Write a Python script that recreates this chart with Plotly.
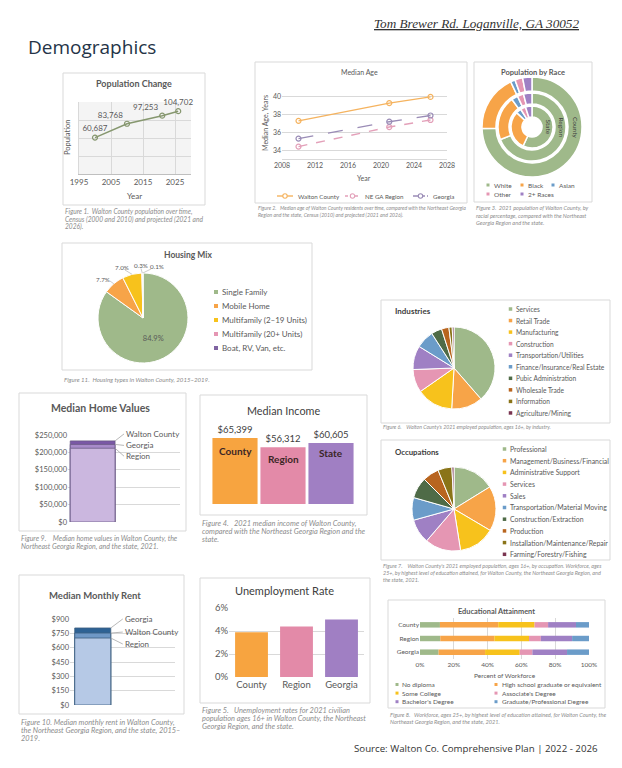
import plotly.graph_objects as go
import numpy as np

# The page body adds an 8px offset, so the figure is 614x760 and all
# positions below are given in window pixels, converted with that offset.
OFF = 8
W, H = 622 - OFF, 768 - OFF
FONT = "Lato"
GRID = "#d9d9d9"
TXT = "#595959"
CAP = "#8c8c8c"

# ---------------- data ----------------
pop_years = [2000, 2010, 2021, 2026]
pop_values = [60687, 83768, 97253, 104702]

age_years = [2010, 2021, 2026]
age_walton = [37.3, 39.3, 40.0]
age_region = [34.4, 36.6, 37.4]
age_georgia = [35.3, 37.2, 37.9]
age_series = ["Walton County", "NE GA Region", "Georgia"]

race_labels = ["White", "Black", "Asian", "Other", "2+ Races"]
race_county = [74.5, 18.5, 1.5, 2.5, 3.0]
race_region = [69.0, 21.0, 3.0, 3.0, 4.0]
race_state = [57.0, 30.0, 4.0, 4.0, 5.0]

housing_labels = ["Single Family", "Mobile Home", "Multifamily (2–19 Units)",
                  "Multifamily (20+ Units)", "Boat, RV, Van, etc."]
housing_values = [84.9, 7.7, 7.0, 0.3, 0.1]

industry_labels = ["Services", "Retail Trade", "Manufacturing", "Construction",
                   "Transportation/Utilities", "Finance/Insurance/Real Estate",
                   "Pubic Administration", "Wholesale Trade", "Information",
                   "Agriculture/Mining"]
industry_values = [38.6, 12.3, 14.4, 9.1, 9.4, 7.1, 4.2, 2.9, 1.3, 0.7]

occupation_labels = ["Professional", "Management/Business/Financial",
                     "Administrative Support", "Services", "Sales",
                     "Transportation/Material Moving", "Construction/Extraction",
                     "Production", "Installation/Maintenance/Repair",
                     "Farming/Forestry/Fishing"]
occupation_values = [16.2, 17.3, 14.0, 13.8, 9.4, 8.7, 8.1, 6.3, 5.4, 0.8]

home_labels = ["Walton County", "Georgia", "Region"]
home_values = [233000, 223000, 212000]

income_labels = ["County", "Region", "State"]
income_values = [65399, 56312, 60605]

rent_labels = ["Georgia", "Walton County", "Region"]
rent_values = [806, 753, 701]

unemp_labels = ["County", "Region", "Georgia"]
unemp_values = [3.9, 4.4, 5.0]

edu_places = ["County", "Region", "Georgia"]
edu_levels = ["No diploma", "High school graduate or equivalent", "Some College",
              "Associate's Degree", "Bachelor's Degree", "Graduate/Professional Degree"]
edu_no_diploma = [11.8, 12.0, 11.0]
edu_high_school = [34.5, 32.0, 27.5]
edu_some_college = [21.5, 20.5, 20.5]
edu_associate = [8.0, 7.0, 7.5]
edu_bachelor = [16.5, 18.5, 20.5]
edu_graduate = [7.7, 10.0, 13.0]

# ---------------- colours ----------------
C_GREEN = "#9fb98a"
C_ORANGE = "#f7a448"
C_YELLOW = "#f7c21c"
C_PINK = "#e596b3"
C_PURPLE = "#9f80c4"
C_BLUE = "#6b9cc9"
C_DGREEN = "#4f6b47"
C_DORANGE = "#b8651f"
C_DYELLOW = "#8a7418"
C_MAROON = "#7a3450"
pal10 = [C_GREEN, C_ORANGE, C_YELLOW, C_PINK, C_PURPLE, C_BLUE,
         C_DGREEN, C_DORANGE, C_DYELLOW, C_MAROON]


def X(px):
    return (px - OFF) / W


def Y(py):
    return 1 - (py - OFF) / H


def dx(a, b):
    return [X(a), X(b)]


def dy(a, b):
    return [Y(b), Y(a)]


fig = go.Figure()
shapes = []
ann = []


def text(x, y, s, size, color=TXT, xanchor="center", yanchor="middle",
         angle=0, family=FONT, align="left"):
    ann.append(dict(x=X(x), y=Y(y), xref="paper", yref="paper", text=s,
                    showarrow=False, xanchor=xanchor, yanchor=yanchor,
                    textangle=angle, align=align,
                    font=dict(size=size, color=color, family=family)))


def line(x0, y0, x1, y1, color="#a6a6a6", width=0.8, dash="solid"):
    shapes.append(dict(type="line", xref="paper", yref="paper", x0=X(x0), x1=X(x1),
                       y0=Y(y0), y1=Y(y1), line=dict(color=color, width=width, dash=dash)))


def box(x0, y0, x1, y1):
    shapes.append(dict(type="rect", xref="paper", yref="paper",
                       x0=X(x0), x1=X(x1), y0=Y(y1), y1=Y(y0),
                       line=dict(color="#d9d9d9", width=1), layer="below"))


def caption(x, y, lines, size, step):
    for i, s in enumerate(lines):
        text(x, y + i * step, f"<i>{s}</i>", size, color=CAP, xanchor="left")


def legend_block(labels, colors, xm, y0, step, size=4, fs=7.5, ncol=1, colx=None, gap=2):
    for i, (lab, col) in enumerate(zip(labels, colors)):
        if ncol == 1:
            xx, yy = xm, y0 + i * step
        else:
            xx, yy = colx[i % ncol], y0 + (i // ncol) * step
        shapes.append(dict(type="rect", xref="paper", yref="paper",
                           x0=X(xx - size / 2), x1=X(xx + size / 2),
                           y0=Y(yy + size / 2), y1=Y(yy - size / 2),
                           fillcolor=col, line=dict(width=0)))
        text(xx + size / 2 + gap, yy, lab, fs, xanchor="left")


# ---------------- header ----------------
text(372, 24, "<i><u>Tom Brewer Rd. Loganville, GA 30052</u></i>", 13.2,
     color="#333333", xanchor="left", family="Liberation Serif")
text(26, 47, "Demographics", 19, color="#243447", xanchor="left", family="Open Sans")
text(600, 748, "Source: Walton Co. Comprehensive Plan | 2022 - 2026", 9.7,
     color="#333333", xanchor="right", family="Open Sans")

# ---------------- 1. Population change ----------------
box(63, 73, 205, 205)
text(134, 84, "<b>Population Change</b>", 9)
fig.add_trace(go.Scatter(
    x=pop_years, y=pop_values, mode="lines+markers+text",
    text=[f"{v:,}" for v in pop_values],
    textposition=["top center", "top left", "top left", "top center"],
    textfont=dict(size=8, color=TXT, family=FONT),
    line=dict(color="#86976f", width=1.5),
    marker=dict(symbol="circle-open", size=5, color="#86976f", line=dict(width=1.2)),
    xaxis="x", yaxis="y", showlegend=False, cliponaxis=False))
shapes.append(dict(type="rect", xref="x domain", yref="y domain", x0=0, x1=1,
                   y0=0, y1=1, fillcolor="#f4f4f4", line=dict(width=0), layer="below"))
text(134, 196, "Year", 8)
text(68, 138, "Population", 7.5, angle=-90)
caption(63, 212, ["Figure 1.  Walton County population over time,",
                  "Census (2000 and 2010) and projected (2021 and",
                  "2026)."], 6.6, 7)

# ---------------- 2. Median age ----------------
box(255, 62, 467, 203)
text(359, 72, "Median Age", 7)
age_styles = [("#f5b35f", "solid"), ("#e3a0b9", "dash"), ("#9a8cb6", "longdash")]
for name, vals, (col, dash) in zip(age_series, [age_walton, age_region, age_georgia],
                                   age_styles):
    fig.add_trace(go.Scatter(
        x=age_years, y=vals, mode="lines+markers", name=name,
        line=dict(color=col, width=1.4, dash=dash),
        marker=dict(symbol="circle-open", size=5, color=col, line=dict(width=1.2)),
        xaxis="x2", yaxis="y2", showlegend=False))
# legend row
for name, (col, dash), (lx0, lx1, tx) in zip(
        age_series, age_styles, [(277, 293, 296), (345, 360, 363), (413, 428, 431)]):
    line(lx0, 196, lx1, 196, color=col, width=1.4,
         dash="solid" if dash == "solid" else ("3px,2px" if dash == "dash" else "5px,2px"))
    m = (lx0 + lx1) / 2
    shapes.append(dict(type="circle", xref="paper", yref="paper", x0=X(m - 2.2), x1=X(m + 2.2),
                       y0=Y(198.2), y1=Y(193.8), fillcolor="white", line=dict(color=col, width=1.1)))
    text(tx, 196, name, 6.2, xanchor="left")
text(364, 178, "Year", 7)
text(266, 123, "Median Age, Years", 7, angle=-90)
caption(256, 208, ["Figure 2.   Median age of Walton County residents over time, compared with the Northeast Georgia",
                   "Region and the state, Census (2010) and projected (2021 and 2026)."], 5.1, 6.5)

# ---------------- 3. Population by race ----------------
box(474, 62, 592, 202)
text(533, 72, "<b>Population by Race</b>", 7.5)
race_colors = [C_GREEN, C_ORANGE, C_BLUE, C_PINK, C_PURPLE]
cx, cy = 532, 127
for vals, (ro, ri) in zip([race_county, race_region, race_state],
                          [(50, 36), (34, 23), (21, 10)]):
    fig.add_trace(go.Pie(
        values=vals, labels=race_labels, hole=ri / ro,
        domain=dict(x=dx(cx - ro, cx + ro), y=dy(cy - ro, cy + ro)),
        marker=dict(colors=race_colors, line=dict(color="white", width=1.5)),
        sort=False, direction="clockwise", rotation=0, textinfo="none",
        showlegend=False))
text(cx + 43, cy, "County", 6.5, color="#404040", angle=90)
text(cx + 28.5, cy, "Region", 6.5, color="#404040", angle=90)
text(cx + 15.5, cy, "State", 6.5, color="#404040", angle=90)
legend_block(race_labels, race_colors, None, 185, 9, size=3, fs=6.5, ncol=3,
             colx=[488, 522, 553])
caption(474, 208, ["Figure 3.  2021 population of Walton County, by",
                   "racial percentage, compared with the Northeast",
                   "Georgia Region and the state."], 5.6, 7)

# ---------------- 11. Housing mix ----------------
box(62, 243, 312, 370)
text(188, 255, "<b>Housing Mix</b>", 8.5)
housing_colors = [C_GREEN, C_ORANGE, C_YELLOW, C_PINK, "#8064a2"]
hcx, hcy, hr = 143, 318, 45
fig.add_trace(go.Pie(
    values=housing_values, labels=housing_labels,
    domain=dict(x=dx(hcx - hr, hcx + hr), y=dy(hcy - hr, hcy + hr)),
    marker=dict(colors=housing_colors, line=dict(color="white", width=1)),
    sort=False, direction="clockwise", rotation=0,
    texttemplate=["%{percent:.1%}", "", "", "", ""],
    textposition="inside", insidetextorientation="horizontal",
    textfont=dict(size=7.5, color=TXT, family=FONT), showlegend=False))
# outside percentage labels (with leader lines) for the small slices
hv = np.array(housing_values)
mids = (np.cumsum(hv) - hv / 2) / hv.sum() * 2 * np.pi
for val, ang, (lx, ly), (sx, sy) in zip(hv[1:], mids[1:],
                                        [(103, 279), (122, 267), (140.5, 265), (156.5, 266)],
                                        [(110, 281), (125, 270), (141, 268.5), (151, 269)]):
    ex = hcx + hr * np.sin(ang)
    ey = hcy - hr * np.cos(ang)
    line(sx, sy, ex, ey, color="#a6a6a6", width=0.6)
    text(lx, ly, f"{val:.1f}%", 6.3)
legend_block(housing_labels, housing_colors, 216, 292, 14, size=4, fs=8)
caption(62, 379, ["Figure 11.  Housing types in Walton County, 2015–2019."], 6.1, 7)

# ---------------- 6. Industries ----------------
box(381, 300, 610, 423)
text(393, 311, "<b>Industries</b>", 8, color="#404040", xanchor="left")
fig.add_trace(go.Pie(
    values=industry_values, labels=industry_labels,
    domain=dict(x=dx(413, 495), y=dy(327, 409)),
    marker=dict(colors=pal10, line=dict(color="white", width=1)),
    sort=False, direction="clockwise", rotation=0, textinfo="none",
    showlegend=False))
legend_block(industry_labels, pal10, 510.5, 309, 11.55, size=3.5, fs=6.6, gap=1.5)
caption(381, 427, ["Figure 6.    Walton County's 2021 employed population, ages 16+, by industry."], 5.2, 7)

# ---------------- 7. Occupations ----------------
box(381, 440, 610, 560)
text(393, 452, "<b>Occupations</b>", 7.8, color="#404040", xanchor="left")
fig.add_trace(go.Pie(
    values=occupation_values, labels=occupation_labels,
    domain=dict(x=dx(412, 496), y=dy(467, 551)),
    marker=dict(colors=pal10, line=dict(color="white", width=1)),
    sort=False, direction="clockwise", rotation=0, textinfo="none",
    showlegend=False))
legend_block(occupation_labels, pal10, 504.5, 449, 11.7, size=3.5, fs=6.9, gap=1.5)
caption(381, 566, ["Figure 7.    Walton County's 2021 employed population, ages 16+, by occupation. Workforce, ages",
                   "25+, by highest level of education attained, for Walton County, the Northeast Georgia Region, and",
                   "the state, 2021."], 5.4, 7)

# ---------------- 9. Median home values ----------------
box(19, 393, 186, 531)
text(100, 408, "<b>Median Home Values</b>", 10.5)
home_colors = ["#7a58a6", "#a88bca", "#cbb7df"]
for lab, val, col in zip(home_labels, home_values, home_colors):
    fig.add_trace(go.Bar(x=[0], y=[val], width=[1.0], name=lab,
                         marker=dict(color=col, line=dict(color="#6b5a85", width=0.8)),
                         xaxis="x3", yaxis="y3", showlegend=False))
for lab, val, (ax_, ay_) in zip(home_labels, home_values, [(9, -7), (9, 1), (9, 8)]):
    ann.append(dict(x=0.5, y=val, xref="x3", yref="y3", text=lab, ax=ax_, ay=ay_,
                    showarrow=True, arrowhead=0, arrowwidth=0.8, arrowcolor="#a6a6a6",
                    xanchor="left", yanchor="middle",
                    font=dict(size=8, color=TXT, family=FONT)))
caption(19, 538, ["Figure 9.    Median home values in Walton County, the",
                  "Northeast Georgia Region, and the state, 2021."], 7, 8)

# ---------------- 4. Median income ----------------
box(200, 395, 367, 515)
text(283, 410, "Median Income", 10.8, color="#404040")
income_colors = ["#f7a440", "#e38aa8", "#a07fc3"]
fig.add_trace(go.Bar(x=income_labels, y=income_values, width=0.94,
                     marker=dict(color=income_colors),
                     text=[f"${v:,}" for v in income_values], textposition="outside",
                     textfont=dict(size=9.5, color="#404040", family=FONT),
                     cliponaxis=False, xaxis="x4", yaxis="y4", showlegend=False))
for lab, val, sh in zip(income_labels, income_values, [-13, -12, -10]):
    ann.append(dict(x=lab, y=val, xref="x4", yref="y4", text=f"<b>{lab}</b>",
                    showarrow=False, yshift=sh, yanchor="middle",
                    font=dict(size=10, color="#3b2626", family=FONT)))
caption(200, 523, ["Figure 4.   2021 median income of Walton County,",
                   "compared with the Northeast Georgia Region and the",
                   "state."], 7.4, 8)

# ---------------- 10. Median monthly rent ----------------
box(19, 575, 184, 714)
text(95, 595, "<b>Median Monthly Rent</b>", 9.5)
rent_colors = ["#2e6294", "#6f98c6", "#b6c9e6"]
for lab, val, col in zip(rent_labels, rent_values, rent_colors):
    fig.add_trace(go.Bar(x=[0], y=[val], width=[1.03], name=lab,
                         marker=dict(color=col, line=dict(color="#3d5f80", width=0.8)),
                         xaxis="x5", yaxis="y5", showlegend=False))
for lab, val, (ax_, ay_) in zip(rent_labels, rent_values, [(12, -9), (12, -1), (12, 6)]):
    ann.append(dict(x=0.515, y=val, xref="x5", yref="y5", text=lab, ax=ax_, ay=ay_,
                    showarrow=True, arrowhead=0, arrowwidth=0.8, arrowcolor="#a6a6a6",
                    xanchor="left", yanchor="middle",
                    font=dict(size=8, color=TXT, family=FONT)))
caption(19, 722, ["Figure 10. Median monthly rent in Walton County,",
                  "the Northeast Georgia Region, and the state, 2015–",
                  "2019."], 7.4, 8)

# ---------------- 5. Unemployment ----------------
box(200, 578, 370, 703)
text(284, 590, "Unemployment Rate", 11, color="#404040")
fig.add_trace(go.Bar(x=unemp_labels, y=unemp_values, width=0.73,
                     marker=dict(color=income_colors),
                     xaxis="x6", yaxis="y6", showlegend=False))
caption(200, 710, ["Figure 5.   Unemployment rates for 2021 civilian",
                   "population ages 16+ in Walton County, the Northeast",
                   "Georgia Region, and the state."], 7.4, 8)

# ---------------- 8. Educational attainment ----------------
box(388, 600, 605, 708)
text(496, 611, "<b>Educational Attainment</b>", 7.4)
edu_colors = [C_GREEN, C_ORANGE, C_YELLOW, C_PINK, C_PURPLE, C_BLUE]
edu_matrix = [edu_no_diploma, edu_high_school, edu_some_college,
              edu_associate, edu_bachelor, edu_graduate]
base = np.zeros(len(edu_places))
for lab, vals, col in zip(edu_levels, edu_matrix, edu_colors):
    fig.add_trace(go.Bar(y=edu_places, x=vals, base=base.copy(), orientation="h",
                         width=0.4, name=lab, marker=dict(color=col),
                         xaxis="x7", yaxis="y7", showlegend=False))
    base = base + np.array(vals)
text(505, 675, "Percent of Workforce", 6.5)
legend_block(edu_levels, edu_colors, None, 684.5, 8.6, size=3, fs=6.5, ncol=2,
             colx=[397, 496])
caption(388, 714, ["Figure 8.   Workforce, ages 25+, by highest level of education attained, for Walton County, the",
                   "Northeast Georgia Region, and the state, 2021."], 5.6, 7)

# ---------------- axes ----------------
tf = lambda s: dict(size=s, color=TXT, family=FONT)
fig.update_layout(
    xaxis=dict(domain=dx(79, 191), range=[1995, 2030], tickvals=[1995, 2005, 2015, 2025],
               showgrid=True, gridcolor=GRID, showline=True, linecolor="#bfbfbf",
               zeroline=False, tickfont=tf(8), anchor="y", fixedrange=True),
    yaxis=dict(domain=dy(102, 174), range=[0, 120000], dtick=30000, showticklabels=False,
               showgrid=True, gridcolor=GRID, zeroline=False, showline=True,
               linecolor=GRID, anchor="x"),
    xaxis2=dict(domain=dx(282, 447), range=[2008, 2028], dtick=4, showgrid=False,
                showline=True, linecolor=GRID, zeroline=False, tickfont=tf(7), anchor="y2"),
    yaxis2=dict(domain=dy(88, 159), range=[33, 41], dtick=2, showgrid=True,
                gridcolor=GRID, zeroline=False, tickfont=tf(7), anchor="x2"),
    xaxis3=dict(domain=dx(68, 180), range=[-0.55, 1.95], visible=False, anchor="y3"),
    yaxis3=dict(domain=dy(435, 522), range=[0, 250000], dtick=50000, tickformat="$,.0f",
                showgrid=True, gridcolor=GRID, zeroline=False, tickfont=tf(7.5), anchor="x3"),
    xaxis4=dict(domain=dx(211, 355), visible=False, anchor="y4"),
    yaxis4=dict(domain=dy(433.4, 504), range=[0, 70000], visible=False, anchor="x4"),
    xaxis5=dict(domain=dx(70, 175), range=[-0.65, 2.35], visible=False, anchor="y5"),
    yaxis5=dict(domain=dy(619, 705), range=[0, 900], dtick=150, tickprefix="$",
                showgrid=True, gridcolor=GRID, zeroline=False, tickfont=tf(7.5), anchor="x5"),
    xaxis6=dict(domain=dx(229, 364), showgrid=False, showline=False, zeroline=False,
                tickfont=tf(9.5), anchor="y6"),
    yaxis6=dict(domain=dy(608, 677), range=[0, 6], dtick=2, ticksuffix="%",
                showgrid=True, gridcolor=GRID, zeroline=False, tickfont=tf(9.5), anchor="x6"),
    xaxis7=dict(domain=dx(420, 589), range=[0, 100], dtick=20, ticksuffix="%",
                showgrid=True, gridcolor=GRID, zeroline=False, tickfont=tf(6.5), anchor="y7"),
    yaxis7=dict(domain=dy(618, 659), categoryorder="array",
                categoryarray=["Georgia", "Region", "County"], showgrid=False,
                tickfont=tf(6.5), anchor="x7"),
)

fig.update_layout(
    template="none",
    width=W, height=H, margin=dict(l=0, r=0, t=0, b=0),
    paper_bgcolor="white", plot_bgcolor="rgba(0,0,0,0)",
    barmode="overlay",
    font=dict(family=FONT, color=TXT),
    showlegend=False,
    shapes=shapes, annotations=ann,
)

fig.write_html("out.html")
